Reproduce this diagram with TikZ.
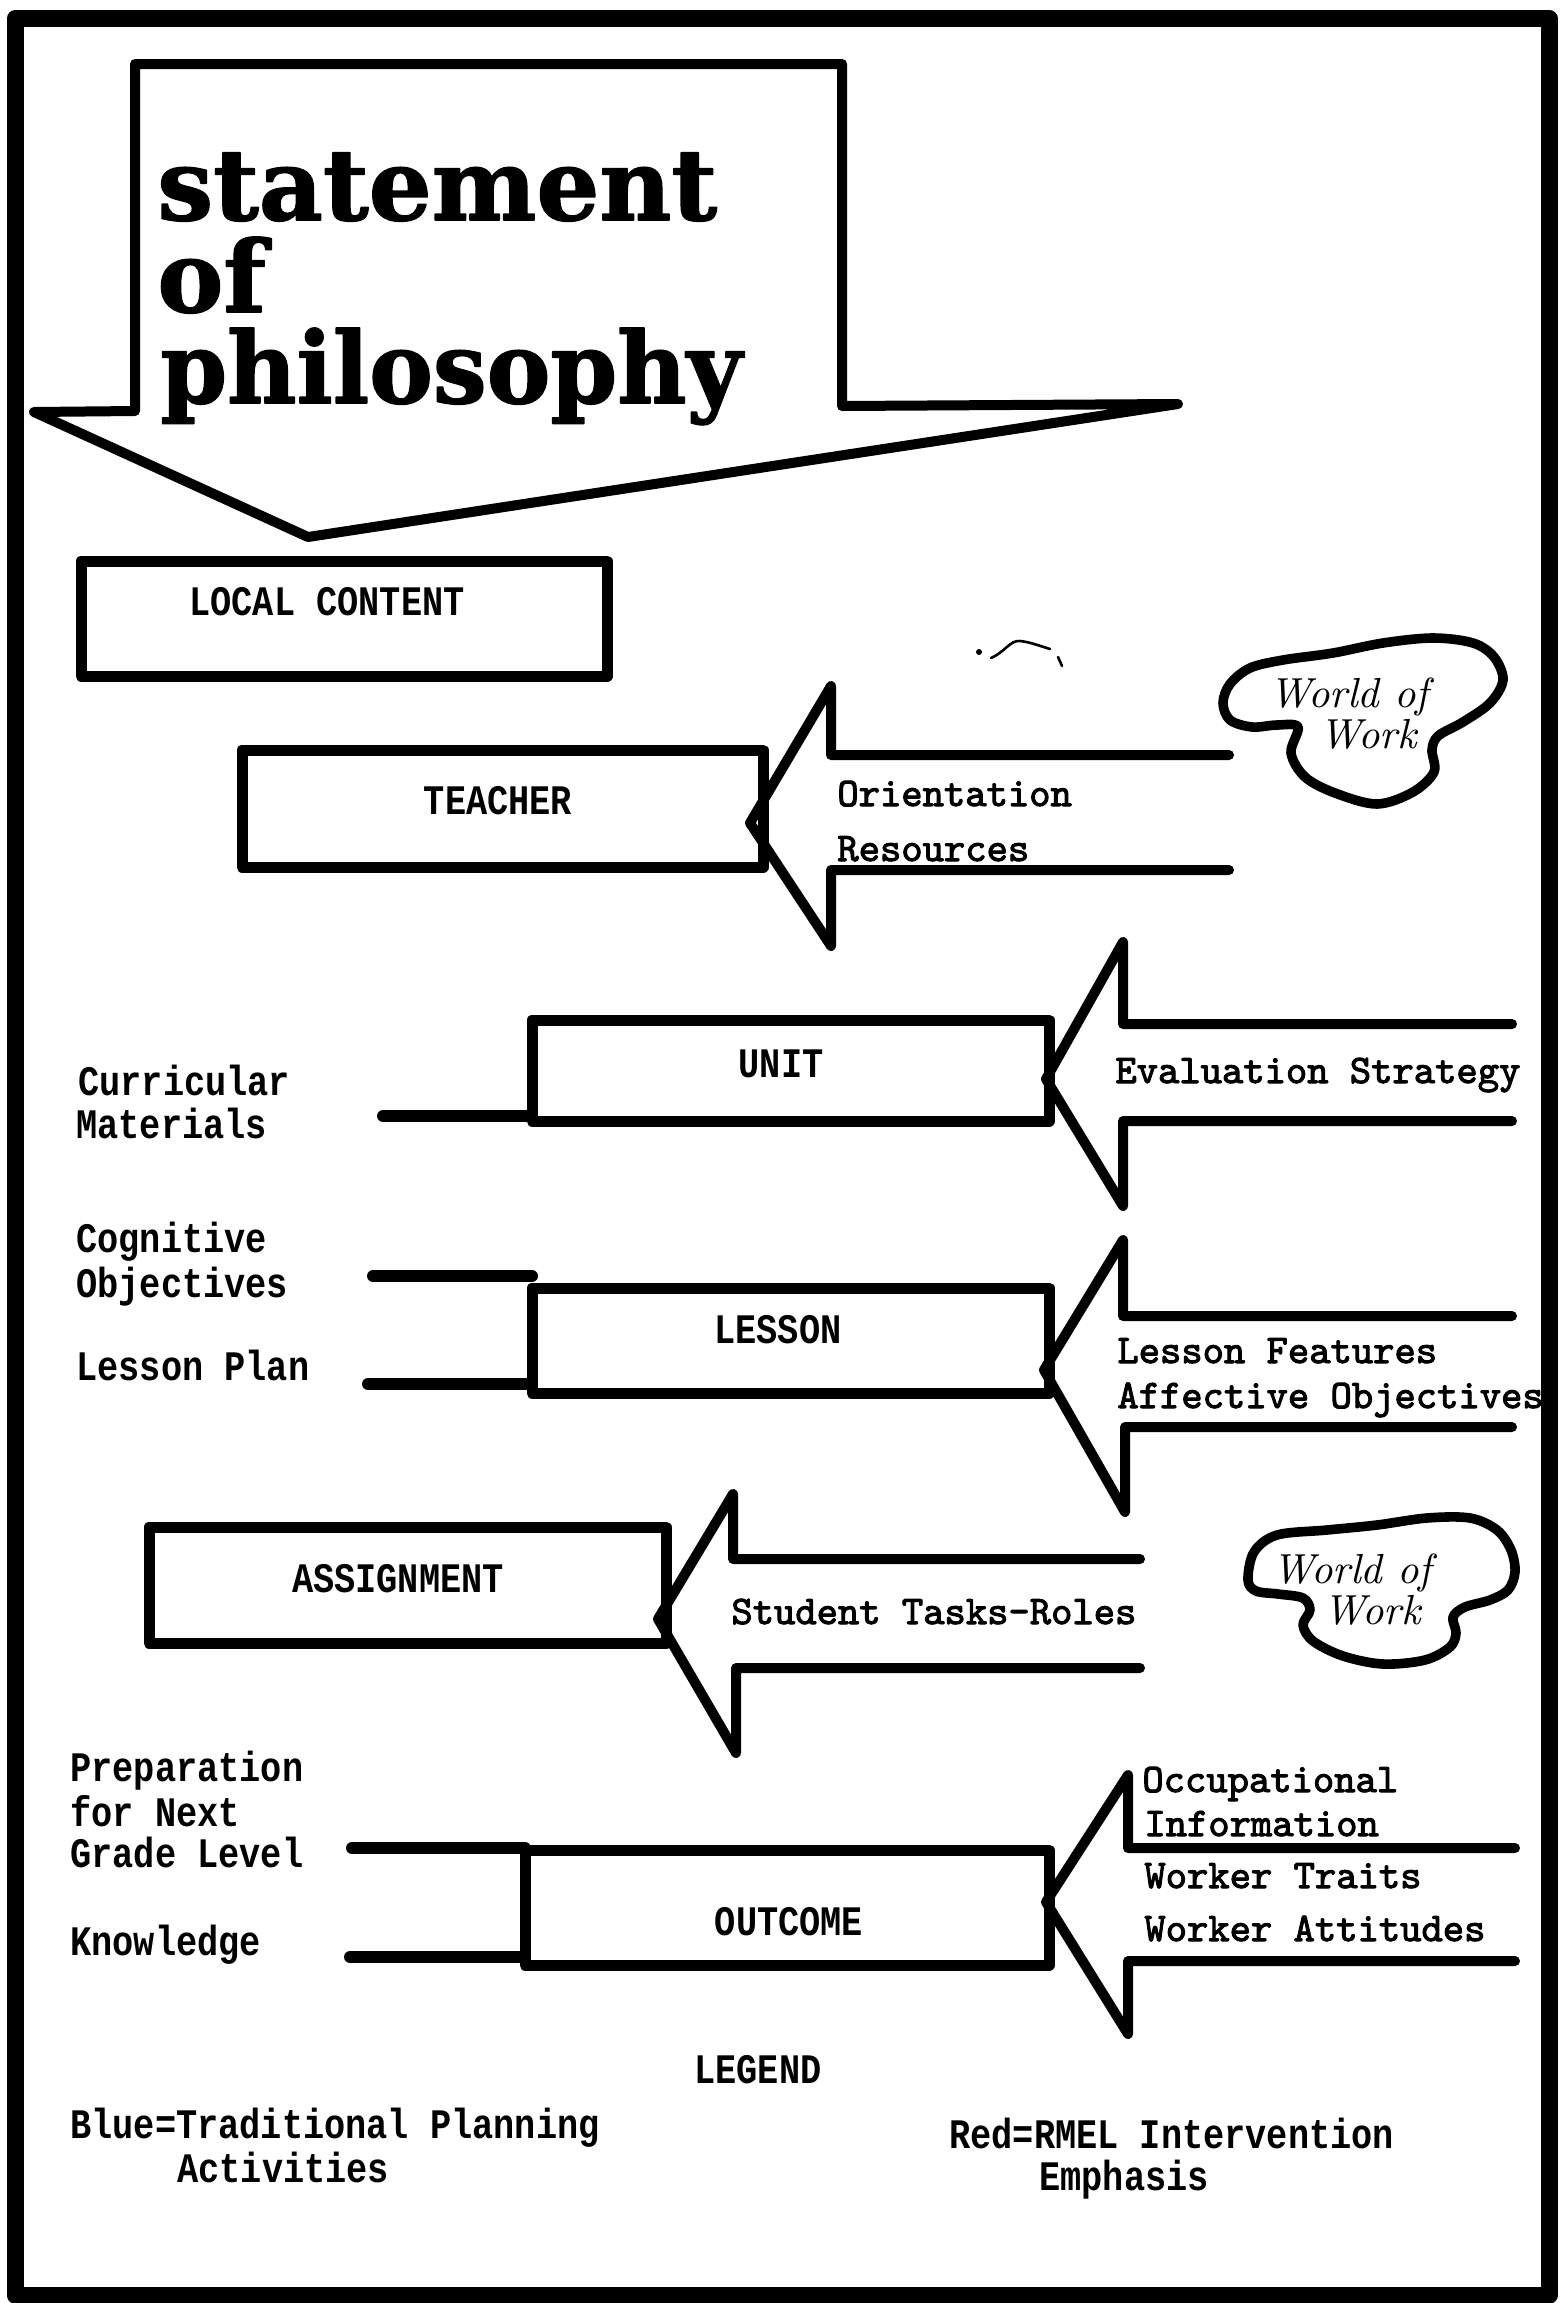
\documentclass[tikz,border=0pt]{standalone}
\usepackage{fontspec}
\newfontfamily\lblfont{Liberation Mono}[FakeStretch=0.84]
\newfontfamily\twfont{lmmono10-regular.otf}[FakeBold=2.5]
\newfontfamily\stmfont{DejaVu Serif}[FakeBold=1.5]
\newfontfamily\wowfont{lmroman10-italic.otf}
\begin{document}
\begin{tikzpicture}[x=0.5pt,y=-0.5pt, line join=round,
  boxst/.style={draw, line width=5.5pt, inner sep=0pt, outer sep=0pt},
  lbl/.style={font=\lblfont\bfseries\fontsize{21}{24}\selectfont, inner sep=0pt, anchor=base west},
  ctr/.style={font=\lblfont\bfseries\fontsize{21}{24}\selectfont, inner sep=0pt},
  tw/.style={font=\twfont\fontsize{20.3}{24}\selectfont, inner sep=0pt, anchor=base west},
  blk/.style={line width=5pt, line cap=round, line join=round},
  conn/.style={line width=6pt, line cap=round},
  cloudst/.style={line width=4.8pt},
  wow/.style={font=\wowfont\fontsize{21}{26}\selectfont, inner sep=0pt, anchor=base},
  stm/.style={font=\stmfont\bfseries\fontsize{49.5}{46}\selectfont, inner sep=0pt, anchor=base west}]

\useasboundingbox (0,0) rectangle (1559,2303);
\fill[white] (0,0) rectangle (1559,2303);
% frame
\draw[line width=8.5pt] (15,18.5) rectangle (1549,2295);

% statement of philosophy arrow
\draw[blk] (135,64) -- (842,64) -- (842,406) -- (1178,404) -- (308,537) -- (34,412) -- (135,411) -- cycle;
\node[stm] (st1) at (157,220) {statement};
\node[stm] (st2) at (157,312) {of};
\node[stm, transform shape, xscale=0.965] (st3) at (160,403) {philosophy};

% boxes
\node[boxst, minimum width=263pt, minimum height=57.5pt] (local) at (344,618.5) {};
\node[ctr] (localt) at (327,602) {LOCAL CONTENT};

\node[boxst, minimum width=260.5pt, minimum height=58.5pt] (teacher) at (502.5,808.5) {};
\node[ctr] (teachert) at (498,801) {TEACHER};

\node[boxst, minimum width=258.5pt, minimum height=50.5pt] (unit) at (790.5,1070.5) {};
\node[ctr] (unitt) at (781,1063.5) {UNIT};

\node[boxst, minimum width=258.5pt, minimum height=52.5pt] (lesson) at (790.5,1340.5) {};
\node[ctr] (lessont) at (778,1330) {LESSON};

\node[boxst, minimum width=258.5pt, minimum height=58pt] (assign) at (407.5,1585) {};
\node[ctr] (assignt) at (398,1578.5) {ASSIGNMENT};

\node[boxst, minimum width=262pt, minimum height=57.5pt] (outcome) at (787,1907.5) {};
\node[ctr] (outcomet) at (789,1922) {OUTCOME};

% block arrows
\draw[blk] (1229,755) -- (831,755) -- (831,686) -- (750,823) -- (831,946) -- (831,870) -- (1229,870);
\node[tw] (orient) at (837,806) {Orientation};
\node[tw] (resour) at (837,861) {Resources};

\draw[blk] (1512,1024) -- (1123,1024) -- (1123,942) -- (1046,1079) -- (1123,1206) -- (1123,1121) -- (1512,1121);
\node[tw] (evals) at (1115,1083) {Evaluation Strategy};

\draw[blk] (1512,1316) -- (1123,1316) -- (1123,1240) -- (1044,1370) -- (1125,1512) -- (1125,1427) -- (1512,1427);
\node[tw] (lfeat) at (1117,1363) {Lesson Features};
\node[tw] (affob) at (1117,1408) {Affective Objectives};

\draw[blk] (1140,1559) -- (733,1559) -- (733,1494) -- (658,1619) -- (736,1753) -- (736,1668) -- (1140,1668);
\node[tw] (stask) at (731,1624) {Student Tasks-Roles};

\draw[blk] (1515,1848) -- (1128,1848) -- (1128,1775) -- (1046,1902) -- (1128,2034) -- (1128,1961) -- (1515,1961);
\node[tw] (occ1) at (1142,1792) {Occupational};
\node[tw] (occ2) at (1144,1836) {Information};
\node[tw] (wtr) at (1144,1888) {Worker Traits};
\node[tw] (watt) at (1144,1941) {Worker Attitudes};

% left connectors
\coordinate (ccur) at (383,1116);
\draw[conn] (ccur) -- (ccur -| unit.west);
\coordinate (ccog) at (373,1276);
\draw[conn] (ccog) -- (ccog -| lesson.west);
\coordinate (cplan) at (368,1384);
\draw[conn] (cplan) -- (cplan -| lesson.west);
\coordinate (cprep) at (352,1848);
\draw[conn] (cprep) -- (cprep -| outcome.west);
\coordinate (cknow) at (350,1957);
\draw[conn] (cknow) -- (cknow -| outcome.west);

% left labels
\node[lbl] (cur1) at (78,1095) {Curricular};
\node[lbl] (cur2) at (76,1138) {Materials};
\node[lbl] (cog1) at (76,1252) {Cognitive};
\node[lbl] (cog2) at (76,1297) {Objectives};
\node[lbl] (lplan) at (76,1380) {Lesson Plan};
\node[lbl] (prep1) at (70,1781) {Preparation};
\node[lbl] (prep2) at (70,1826) {for Next};
\node[lbl] (prep3) at (70,1867) {Grade Level};
\node[lbl] (know) at (70,1955) {Knowledge};

% clouds
\draw[cloudst] plot[smooth cycle, tension=0.55] coordinates {
 (1298,727) (1291,753) (1305,777) (1335,793) (1377,804) (1413,792) (1434,772)
 (1432,750) (1438,736) (1463,722) (1490,703) (1503,680) (1494,657) (1473,643)
 (1433,638) (1383,643) (1333,653) (1283,660) (1250,668) (1230,684) (1223,703)
 (1230,720) (1252,727) (1277,725)};
\node[wow] (wow1a) at (1349,707) {World of};
\node[wow] (wow1b) at (1368,748) {Work};

\draw[cloudst] plot[smooth cycle, tension=0.55] coordinates {
 (1303,1598) (1310,1610) (1303,1625) (1313,1641) (1343,1656) (1383,1664) (1425,1660)
 (1450,1647) (1456,1633) (1453,1617) (1465,1607) (1490,1600) (1508,1590) (1515,1572)
 (1511,1550) (1497,1530) (1470,1518) (1427,1518) (1377,1525) (1327,1530) (1277,1535)
 (1254,1552) (1248,1580) (1256,1591) (1278,1594)};
\node[wow] (wow2a) at (1352,1583) {World of};
\node[wow] (wow2b) at (1372,1624) {Work};

% stray mark
\draw[line width=1.3pt, line cap=round] (991,658) .. controls (1005,652) and (1010,640) .. (1020,641) .. controls (1030,642) and (1040,646) .. (1050,649);
\draw[line width=1.3pt, line cap=round] (1058,657) -- (1062,666);
\fill (979,652) circle[radius=1.5pt];

% legend
\node[ctr] (legend) at (758,2070) {LEGEND};
\node[lbl] (blue1) at (70,2138) {Blue=Traditional Planning};
\node[lbl] (blue2) at (177,2182) {Activities};
\node[lbl] (red1) at (949,2148) {Red=RMEL Intervention};
\node[lbl] (red2) at (1039,2190) {Emphasis};
\end{tikzpicture}
\end{document}
